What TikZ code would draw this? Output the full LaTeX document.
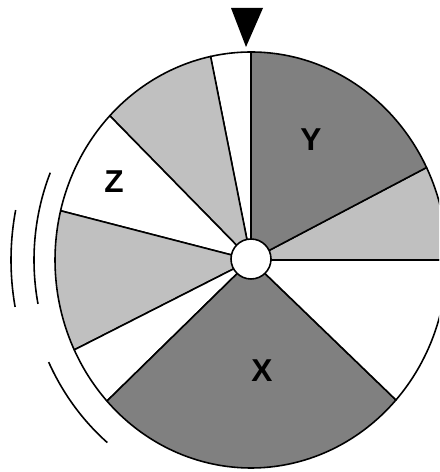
\documentclass[tikz,border=0pt]{standalone}
\usepackage{fontspec}
\setmainfont{Liberation Sans}
\usepackage{xcolor}
\definecolor{spindark}{RGB}{128,128,128}
\definecolor{spinlight}{RGB}{192,192,192}
\usetikzlibrary{calc}
\tikzset{
  sector/.style={draw=black, line width=0.9pt, line join=round},
  whirl/.style={draw=black, line width=0.9pt},
  letter/.style={font=\fontsize{18}{20}\selectfont\bfseries, text=black, inner sep=0pt}
}

\begin{document}
\begin{tikzpicture}[x=0.02cm, y=0.02cm]
  \clip (0,0) rectangle (439,472);
  \coordinate (hubc) at (251,212);

  % --- Sectors of the wheel, counter-clockwise from the right ---
  \begin{scope}[shift={(hubc)}]
    \filldraw[sector, fill=spinlight] (0,0) -- (0:196 and 208) arc[start angle=0, end angle=26.4, x radius=196, y radius=208] -- cycle;
    \filldraw[sector, fill=spindark]  (0,0) -- (26.4:196 and 208) arc[start angle=26.4, end angle=90, x radius=196, y radius=208] -- cycle;
    \filldraw[sector, fill=white]     (0,0) -- (90:196 and 208) arc[start angle=90, end angle=101.9, x radius=196, y radius=208] -- cycle;
    \filldraw[sector, fill=spinlight] (0,0) -- (101.9:196 and 208) arc[start angle=101.9, end angle=136.1, x radius=196, y radius=208] -- cycle;
    \filldraw[sector, fill=white]     (0,0) -- (136.1:196 and 208) arc[start angle=136.1, end angle=166.3, x radius=196, y radius=208] -- cycle;
    \filldraw[sector, fill=spinlight] (0,0) -- (166.3:196 and 208) arc[start angle=166.3, end angle=205.6, x radius=196, y radius=208] -- cycle;
    \filldraw[sector, fill=white]     (0,0) -- (205.6:196 and 208) arc[start angle=205.6, end angle=222.7, x radius=196, y radius=208] -- cycle;
    \filldraw[sector, fill=spindark]  (0,0) -- (222.7:196 and 208) arc[start angle=222.7, end angle=317.7, x radius=196, y radius=208] -- cycle;
    \filldraw[sector, fill=white]     (0,0) -- (317.7:196 and 208) arc[start angle=317.7, end angle=360, x radius=196, y radius=208] -- cycle;

    % Spin lines on the left
    \draw[whirl] (168.7:240 and 255) arc[start angle=168.7, end angle=190.6, x radius=240, y radius=255];
    \draw[whirl] (157.7:217 and 230) arc[start angle=157.7, end angle=191, x radius=217, y radius=230];
    \draw[whirl] (205.4:224 and 238) arc[start angle=205.4, end angle=230.1, x radius=224, y radius=238];
  \end{scope}

  % Hub
  \filldraw[sector, fill=white] (251,213) circle (20);

  % Pointer
  \fill[black] (231,464) -- (263,464) -- (246,425) -- cycle;

  % Labels
  \node[letter] (labY) at (311,332) {Y};
  \node[letter] (labZ) at (114,290) {Z};
  \node[letter] (labX) at (262,101) {X};
\end{tikzpicture}
\end{document}
